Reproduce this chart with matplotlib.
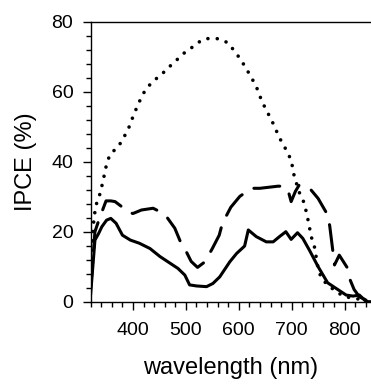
import matplotlib.pyplot as plt
from matplotlib.ticker import MultipleLocator

plt.rcParams['font.family'] = ['Liberation Sans', 'DejaVu Sans']

# solid curve
wl_solid = [320, 328, 335, 341, 350, 358, 368, 380, 395, 412, 432, 451, 470, 485,
            498, 507, 520, 539, 551, 564, 583, 596, 611, 618, 633, 652, 665, 677,
            689, 699, 711, 721, 734, 750, 768, 784, 803, 816, 828, 841, 848]
ipce_solid = [2.4, 17.6, 19.5, 21.4, 23.3, 23.8, 22.4, 19, 17.6, 16.7, 15.2, 12.9,
              11, 9.5, 7.6, 4.8, 4.5, 4.3, 5.2, 7.1, 11.4, 13.8, 15.9, 20.5, 18.6,
              17.1, 17.1, 18.6, 20, 17.8, 19.7, 18.1, 14.6, 10, 5.4, 3.8, 1.9, 1.6,
              1.9, 0, 0]

# dashed curve
wl_dash = [320, 328, 337, 349, 358, 366, 380, 390, 400, 416, 438, 451, 460, 479,
           490, 500, 510, 522, 536, 550, 563, 569, 585, 602, 624, 640, 674, 685,
           693, 699, 707, 714, 734, 750, 768, 772, 778, 781, 790, 806, 809, 818,
           828, 847]
ipce_dash = [4, 20, 24, 28.8, 28.8, 28.6, 27, 25.5, 25.2, 26.2, 26.7, 25.7, 25, 21,
             17, 14.5, 11.5, 9.8, 11.4, 15.2, 19, 22.4, 27, 30.1, 32.4, 32.4, 33, 33,
             31.9, 28.6, 31.5, 33.3, 32.4, 29.5, 24.8, 21.6, 14.3, 10.5, 13.3, 9.5,
             6.8, 3.5, 1.4, 0]

# dotted curve
wl_dot = [321, 325, 329, 333, 338, 344, 351, 358, 372, 381, 390, 396, 402, 409, 416,
          425, 439, 455, 470, 485, 500, 515, 531, 547, 563, 579, 592, 603, 613, 622,
          631, 638, 643, 652, 668, 676, 684, 691, 699, 702, 705, 715, 724, 731, 737,
          743, 750, 756, 768, 784, 800, 820, 845]
ipce_dot = [12, 22, 27, 29, 31, 35, 40, 42.4, 44.2, 46.6, 48.9, 51.3, 53.7, 56.1,
            58.5, 60.9, 63.1, 65.1, 67.3, 69.4, 71.5, 73, 74.9, 75.3, 75.1, 74, 71.6,
            69.3, 66.9, 64.5, 62.1, 59.7, 57.4, 54.8, 50, 47, 45, 42.9, 40.5, 38.1,
            35.7, 31, 28.1, 23.3, 18.6, 15.7, 9.5, 6.7, 4.8, 2.9, 1.4, 1, 0]

fig = plt.figure(figsize=(3.71, 3.86), dpi=100)
ax = fig.add_axes([0.2445, 0.2184, 0.7555, 0.7254])

ax.plot(wl_solid, ipce_solid, color='black', lw=2.2, solid_joinstyle='round')
ax.plot(wl_dash, ipce_dash, color='black', lw=2.2, linestyle=(0, (8.5, 4.5)),
        dash_capstyle='round', dash_joinstyle='round')
ax.plot(wl_dot, ipce_dot, color='black', lw=2.6, linestyle=(0, (0.01, 2.6)),
        dash_capstyle='round')

ax.set_xlim(320, 850)
ax.set_ylim(0, 80)
ax.xaxis.set_major_locator(MultipleLocator(100))
ax.xaxis.set_minor_locator(MultipleLocator(20))
ax.yaxis.set_major_locator(MultipleLocator(20))
ax.yaxis.set_minor_locator(MultipleLocator(4))
ax.set_xticks([400, 500, 600, 700, 800])
ax.tick_params(which='major', length=5.5, width=1, labelsize=14)
ax.tick_params(axis='x', which='major', pad=9)
ax.tick_params(axis='y', which='major', pad=7)
ax.tick_params(which='minor', length=3.5, width=1)
ax.spines['right'].set_visible(False)
for s in ['left', 'top', 'bottom']:
    ax.spines[s].set_linewidth(1)

ax.set_xlabel('wavelength (nm)', fontsize=17)
ax.set_ylabel('IPCE (%)', fontsize=17)
ax.xaxis.set_label_coords(0.5, -0.196)
ax.yaxis.set_label_coords(-0.19, 0.5)

fig.savefig('out.png', dpi=100)
